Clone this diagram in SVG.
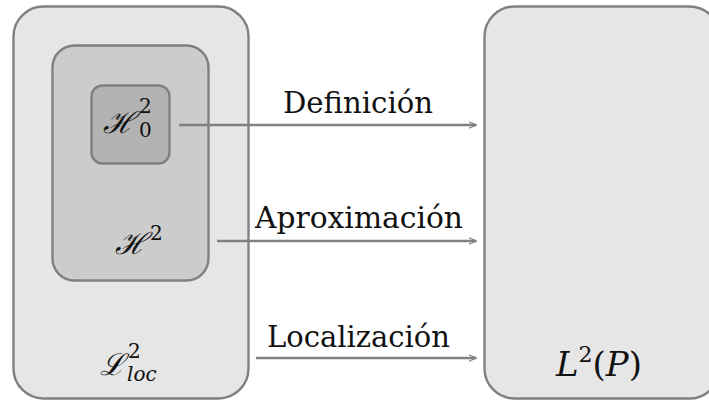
<svg xmlns="http://www.w3.org/2000/svg" width="709" height="401" viewBox="0 0 709 401">
  <defs>
    <style>
      .box { stroke: #808080; stroke-width: 2.4; }
      .l1 { fill: #e6e6e6; }
      .l2 { fill: #cccccc; }
      .l3 { fill: #b3b3b3; }
      .lbl { font-family: 'DejaVu Serif', 'Liberation Serif', serif; font-size: 30px; fill: #111; }
      .math { font-family: 'DejaVu Serif', 'Liberation Serif', serif; font-style: italic; font-size: 30px; fill: #111; }
      .sm { font-family: 'DejaVu Serif', 'Liberation Serif', serif; font-size: 20px; }
      .up { font-style: normal; }
      .it { font-style: italic; }
      .conn { stroke: #808080; stroke-width: 2.4; fill: none; marker-end: url(#arr); }
    </style>
    <marker id="arr" viewBox="0 0 10 10" refX="9" refY="5" markerWidth="8" markerHeight="8" markerUnits="userSpaceOnUse" orient="auto">
      <path d="M0,1 L10,5 L0,9" fill="none" stroke="#808080" stroke-width="1.6"/>
    </marker>
  </defs>

  <g id="node-Lloc">
    <rect class="box l1" x="13.5" y="6.5" width="235" height="392" rx="30"/>
    <text class="math" x="100" y="375">ℒ<tspan class="sm up" x="128" y="358">2</tspan><tspan class="sm it" x="127" y="381">loc</tspan></text>
  </g>

  <g id="node-H2">
    <rect class="box l2" x="52.5" y="45.5" width="156" height="235" rx="22"/>
    <text class="math" x="115" y="254">ℋ<tspan class="sm up" x="150" y="240">2</tspan></text>
  </g>

  <g id="node-H02">
    <rect class="box l3" x="91.5" y="85.5" width="78" height="78" rx="11"/>
    <text class="math" x="103" y="133">ℋ<tspan class="sm up" x="139" y="113">2</tspan><tspan class="sm up" x="139" y="137">0</tspan></text>
  </g>

  <g id="node-L2P">
    <rect class="box l1" x="484.5" y="6.5" width="235" height="392" rx="30"/>
    <text class="math" x="556" y="376" style="font-size:34px">L<tspan class="sm up" style="font-size:22px" dy="-14">2</tspan><tspan class="up" dy="14">(</tspan>P<tspan class="up">)</tspan></text>
  </g>

  <g id="connectors">
    <line class="conn" x1="179" y1="125" x2="476" y2="125"/>
    <text class="lbl" x="283" y="113" textLength="150" lengthAdjust="spacingAndGlyphs">Definición</text>
    <line class="conn" x1="217" y1="241" x2="476" y2="241"/>
    <text class="lbl" x="255" y="228" textLength="208" lengthAdjust="spacingAndGlyphs">Aproximación</text>
    <line class="conn" x1="256" y1="358" x2="476" y2="358"/>
    <text class="lbl" x="267" y="347" textLength="183" lengthAdjust="spacingAndGlyphs">Localización</text>
  </g>
</svg>
